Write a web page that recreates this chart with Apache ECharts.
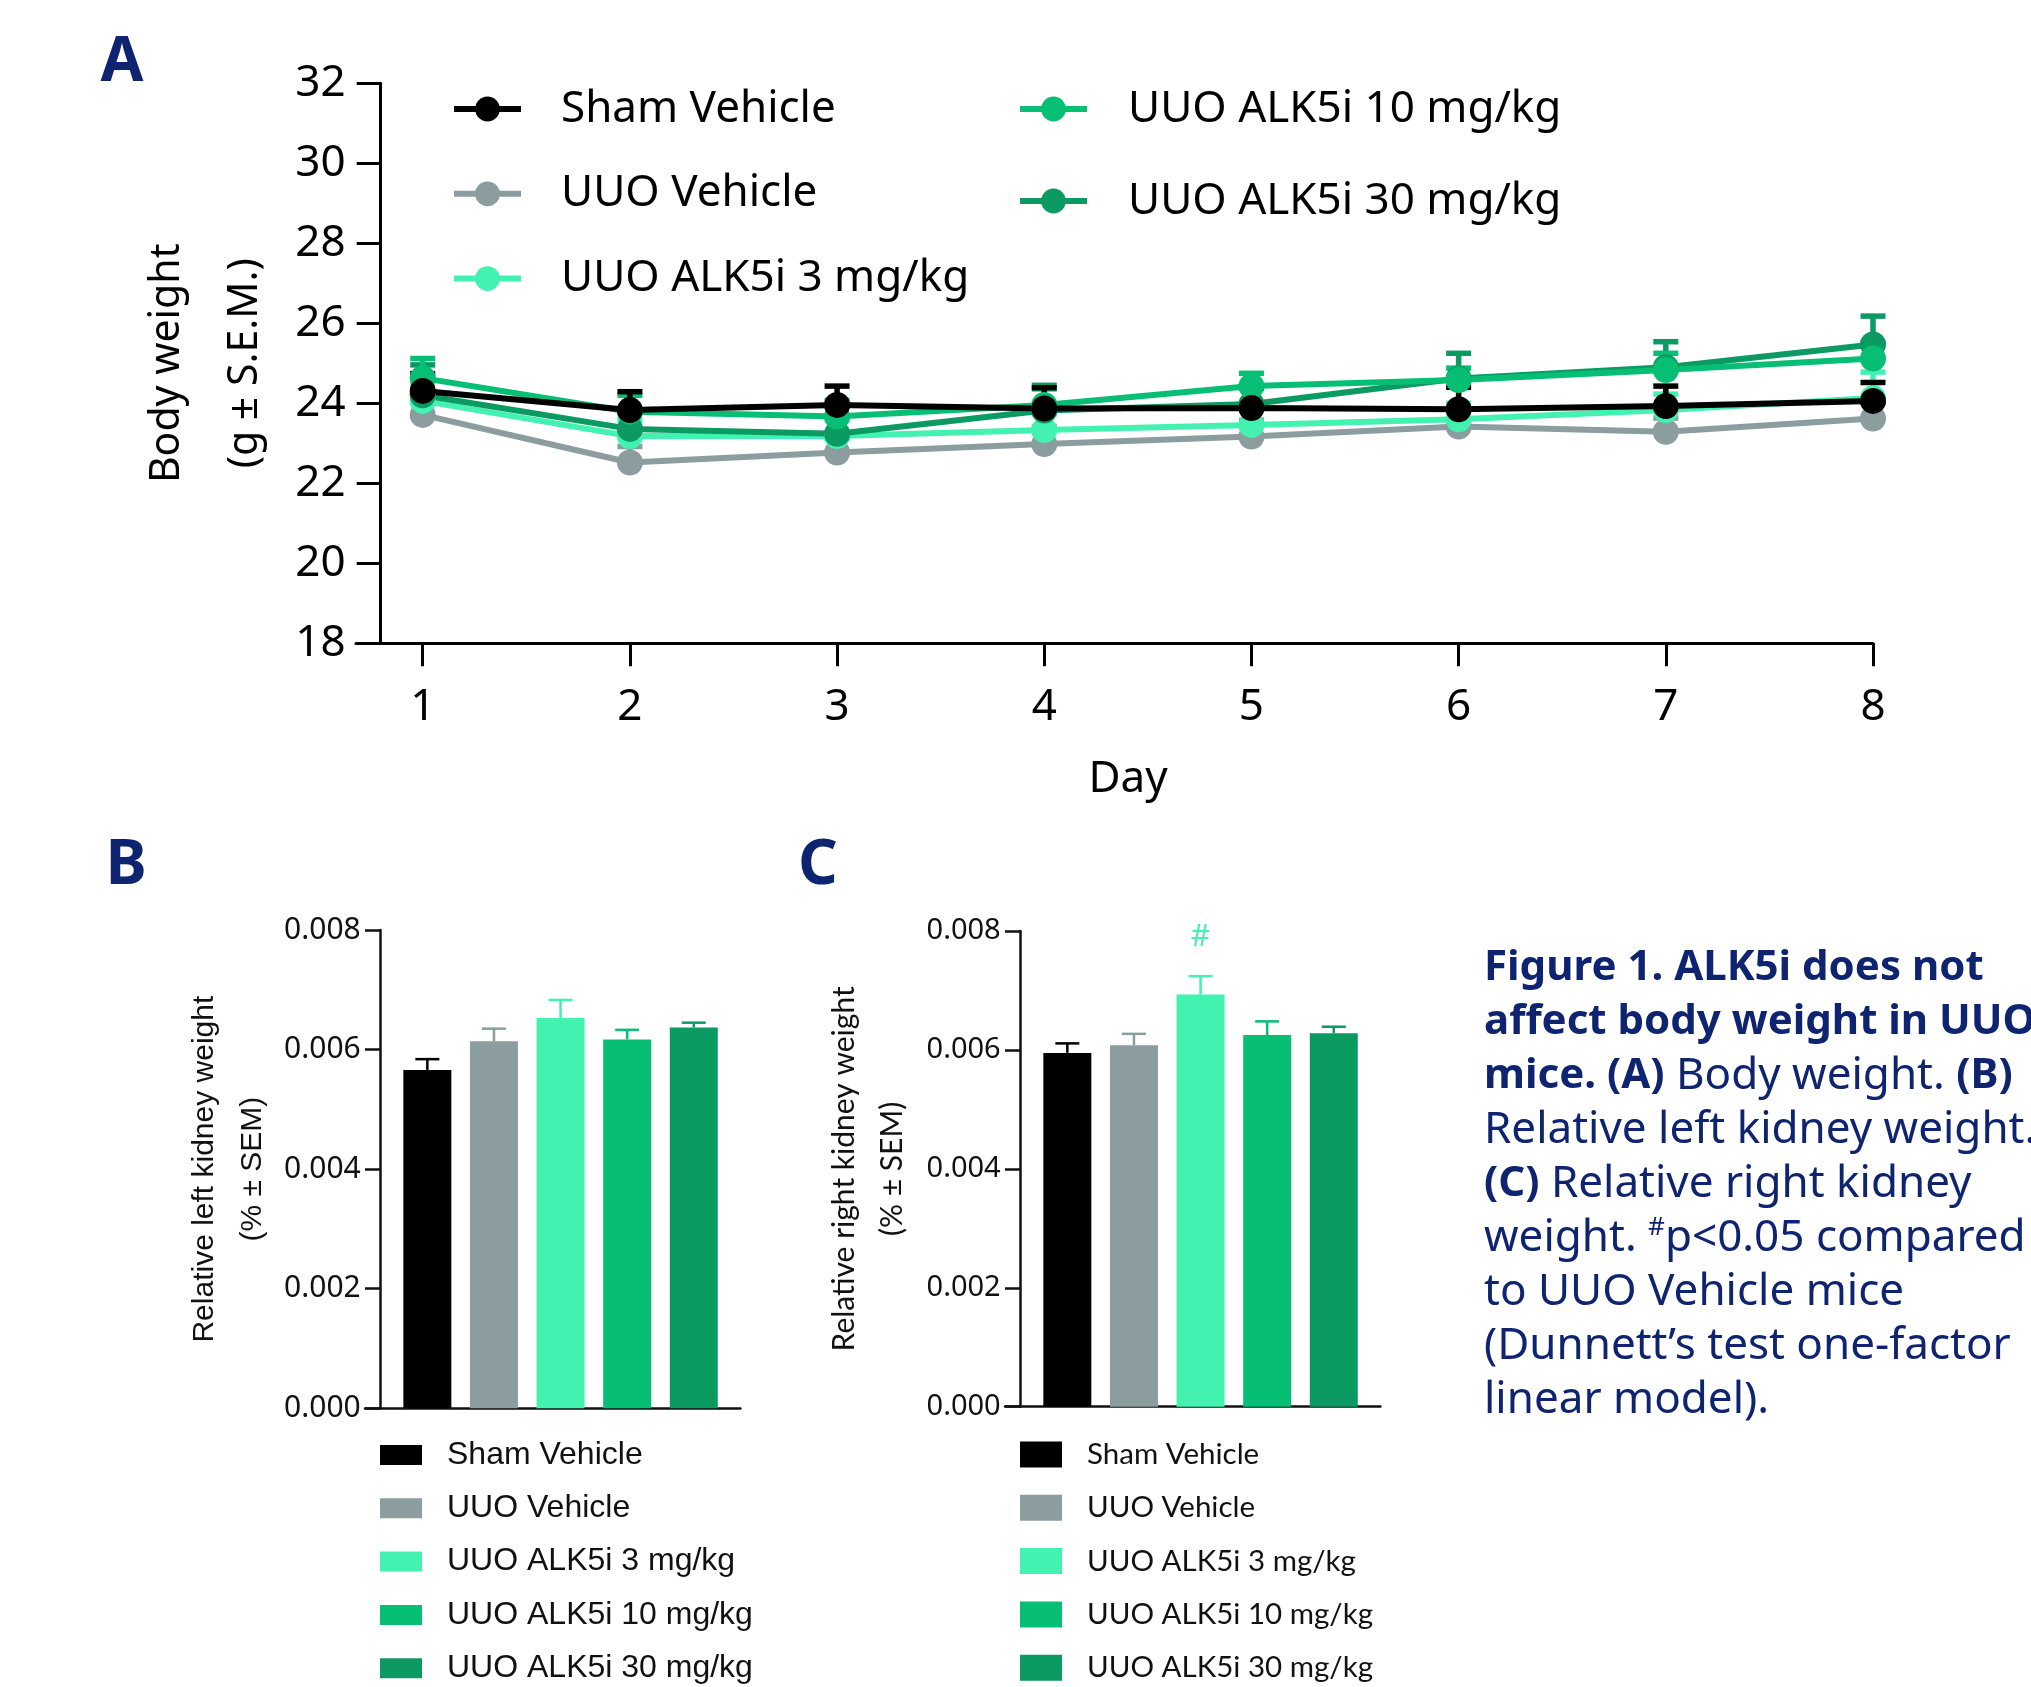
<!DOCTYPE html>
<html>
<head>
<meta charset="utf-8">
<script src="https://cdn.jsdelivr.net/npm/echarts@6/dist/echarts.min.js"></script>
<style>
  html, body { margin: 0; padding: 0; background: #fff; }
  #chart { width: 2031px; height: 1687px; }
</style>
</head>
<body>
<div id="chart"></div>
<script>
// groups, shared by all three panels
const groups = ['Sham Vehicle', 'UUO Vehicle', 'UUO ALK5i 3 mg/kg', 'UUO ALK5i 10 mg/kg', 'UUO ALK5i 30 mg/kg'];
const groupColors = ['#000000', '#8b9d9e', '#43f1b1', '#07bf74', '#0b9a62'];

// Panel A: body weight (g), mean and SEM per day
const days = [1, 2, 3, 4, 5, 6, 7, 8];
const shamWeight = [24.31, 23.83, 23.96, 23.87, 23.88, 23.85, 23.93, 24.06];
const shamSem = [0.43, 0.46, 0.47, 0.52, 0.50, 0.55, 0.50, 0.46];
const uuoWeight = [23.71, 22.52, 22.77, 22.98, 23.17, 23.42, 23.29, 23.62];
const uuoSem = [0.35, 0.40, 0.36, 0.44, 0.41, 0.40, 0.34, 0.40];
const alk3Weight = [24.06, 23.18, 23.18, 23.33, 23.46, 23.60, 23.83, 24.13];
const alk3Sem = [0.45, 0.40, 0.40, 0.40, 0.40, 0.40, 0.40, 0.65];
const alk10Weight = [24.63, 23.79, 23.67, 23.96, 24.43, 24.58, 24.83, 25.12];
const alk10Sem = [0.49, 0.41, 0.40, 0.40, 0.32, 0.30, 0.42, 0.40];
const alk30Weight = [24.20, 23.36, 23.24, 23.82, 23.98, 24.62, 24.90, 25.47];
const alk30Sem = [0.76, 0.45, 0.45, 0.63, 0.45, 0.63, 0.64, 0.71];

// Panel B: relative left kidney weight (%)
const leftKidney = [0.00566, 0.00614, 0.00653, 0.00617, 0.00637];
const leftKidneySem = [0.00018, 0.00021, 0.00030, 0.00016, 0.00008];

// Panel C: relative right kidney weight (%)
const rightKidney = [0.00595, 0.00608, 0.00693, 0.00625, 0.00628];
const rightKidneySem = [0.00016, 0.00019, 0.00031, 0.00023, 0.00011];
const rightKidneySig = ['', '', '#', '', ''];

const weights = [shamWeight, uuoWeight, alk3Weight, alk10Weight, alk30Weight];
const weightSems = [shamSem, uuoSem, alk3Sem, alk10Sem, alk30Sem];

const navy = '#0f2470';
const fontA = '"Noto Sans", sans-serif';

function errorBar(capHalf, lineWidth, colorOf, marks) {
  return function (params, api) {
    const x = api.value(0);
    const mean = api.value(1);
    const sem = api.value(2);
    const base = api.coord([x, mean]);
    const top = api.coord([x, mean + sem]);
    const color = colorOf(params);
    const children = [
      {
        type: 'line',
        shape: { x1: base[0], y1: base[1], x2: top[0], y2: top[1] },
        style: { stroke: color, lineWidth: lineWidth }
      },
      {
        type: 'line',
        shape: { x1: top[0] - capHalf, y1: top[1], x2: top[0] + capHalf, y2: top[1] },
        style: { stroke: color, lineWidth: lineWidth }
      }
    ];
    if (marks && marks[params.dataIndex]) {
      children.push({
        type: 'text',
        style: {
          text: marks[params.dataIndex], x: top[0], y: top[1] - 39,
          align: 'center', verticalAlign: 'middle',
          fill: color, font: '30px "Noto Sans"'
        }
      });
    }
    return { type: 'group', children: children };
  };
}

const series = [];

// line series for A, in the reference's stacking order
const drawOrder = [1, 2, 4, 3, 0];
drawOrder.forEach(function (g) {
  series.push({
    type: 'custom',
    name: 'sem-' + g,
    xAxisIndex: 0,
    yAxisIndex: 0,
    data: days.map(function (d, i) { return [d, weights[g][i], weightSems[g][i]]; }),
    renderItem: errorBar(12.5, 5.5, function () { return groupColors[g]; }),
    silent: true
  });
});
drawOrder.forEach(function (g) {
  series.push({
    type: 'line',
    name: groups[g],
    xAxisIndex: 0,
    yAxisIndex: 0,
    data: days.map(function (d, i) { return [d, weights[g][i]]; }),
    symbol: 'circle',
    symbolSize: 26,
    lineStyle: { color: groupColors[g], width: 6 },
    itemStyle: { color: groupColors[g] }
  });
});

// bar panels B (axis 1) and C (axis 2)
function barPanel(axis, values, sems, marks) {
  groups.forEach(function (name, i) {
    series.push({
      type: 'bar',
      name: name,
      xAxisIndex: axis,
      yAxisIndex: axis,
      data: [[i + 1, values[i]]],
      barWidth: 48,
      barGap: '-100%',
      itemStyle: { color: groupColors[i] }
    });
  });
  series.push({
    type: 'custom',
    name: 'sem-bar-' + axis,
    xAxisIndex: axis,
    yAxisIndex: axis,
    data: values.map(function (v, i) { return [i + 1, v, sems[i]]; }),
    renderItem: errorBar(12, 2.5, function (p) { return groupColors[p.dataIndex]; }, marks),
    silent: true,
    z: 3
  });
}
barPanel(1, leftKidney, leftKidneySem, null);
barPanel(2, rightKidney, rightKidneySem, rightKidneySig);

const axisLineA = { lineStyle: { color: '#000', width: 3 } };
const axisLineB = { lineStyle: { color: '#111', width: 2.5 } };

function barXAxis(grid) {
  return {
    type: 'value', gridIndex: grid, min: 0.064, max: 5.7,
    axisLine: axisLineB, axisTick: { show: false }, axisLabel: { show: false },
    splitLine: { show: false }
  };
}
function barYAxis(grid, name, nameFont, labelSize) {
  return {
    type: 'value', gridIndex: grid, min: 0, max: 0.008, interval: 0.002,
    offset: -15.7,
    axisLine: { show: true, lineStyle: { color: '#111', width: 2.5 } },
    axisTick: { show: true, length: 15.7, lineStyle: { color: '#111', width: 2.5 } },
    axisLabel: {
      fontFamily: fontA, fontSize: labelSize, color: '#111', margin: 20,
      formatter: function (v) { return v.toFixed(3); }
    },
    splitLine: { show: false },
    name: name,
    nameLocation: 'middle',
    nameRotate: 90,
    nameGap: 104,
    nameTextStyle: { fontFamily: nameFont, fontSize: 30, color: '#111', lineHeight: 48 }
  };
}

function barLegend(left, top, font, size, iconHeight) {
  return {
    data: groups, left: left, top: top, height: 300, padding: 0,
    orient: 'vertical', icon: 'rect',
    itemWidth: 42, itemHeight: iconHeight, itemGap: 19.3,
    itemStyle: { borderWidth: 0 },
    textStyle: { fontFamily: font, fontSize: size, color: '#111', lineHeight: 34, padding: [0, 0, 0, 20] }
  };
}

const chart = echarts.init(document.getElementById('chart'));
chart.setOption({
  animation: false,
  backgroundColor: '#fff',
  grid: [
    { left: 356, top: 83.3, width: 1517, height: 560 },
    { left: 365, top: 930, width: 375.4, height: 478.3 },
    { left: 1005, top: 931, width: 375.4, height: 475.7 }
  ],
  xAxis: [
    {
      type: 'value', gridIndex: 0, min: 0.678, max: 8,
      axisLine: axisLineA,
      axisTick: { show: true, length: 23, customValues: days, lineStyle: { color: '#000', width: 3 } },
      axisLabel: { customValues: days, fontFamily: fontA, fontSize: 44, color: '#000', margin: 42 },
      splitLine: { show: false },
      name: 'Day',
      nameLocation: 'middle',
      nameGap: 114,
      nameTextStyle: { fontFamily: fontA, fontSize: 44, color: '#000', padding: [0, 0, 0, 27] }
    },
    barXAxis(1),
    barXAxis(2)
  ],
  yAxis: [
    {
      type: 'value', gridIndex: 0, min: 18, max: 32, interval: 2,
      offset: -24.7,
      axisLine: { show: true, lineStyle: { color: '#000', width: 3 } },
      axisTick: { show: true, length: 24, lineStyle: { color: '#000', width: 3 } },
      axisLabel: { fontFamily: fontA, fontSize: 44, color: '#000', margin: 35 },
      splitLine: { show: false },
      name: 'Body weight\n(g ± S.E.M.)',
      nameLocation: 'middle',
      nameRotate: 90,
      nameGap: 94,
      nameTextStyle: { fontFamily: fontA, fontSize: 41, color: '#000', lineHeight: 78 }
    },
    barYAxis(1, 'Relative left kidney weight\n(% ± SEM)', '"Liberation Sans", Arial', 30),
    barYAxis(2, 'Relative right kidney weight\n(% ± SEM)', 'Lato, sans-serif', 29)
  ],
  legend: [
    {
      data: groups.slice(0, 3), left: 451, top: 87, padding: 0, orient: 'vertical',
      itemWidth: 67, itemHeight: 31, itemGap: 40.8,
      lineStyle: { width: 6 },
      textStyle: { fontFamily: fontA, fontSize: 44, color: '#000', lineHeight: 44, padding: [0, 0, 0, 35] }
    },
    {
      data: groups.slice(3), left: 1017, top: 87, padding: 0, orient: 'vertical',
      itemWidth: 67, itemHeight: 31, itemGap: 48,
      lineStyle: { width: 6 },
      textStyle: { fontFamily: fontA, fontSize: 44, color: '#000', lineHeight: 44, padding: [0, 0, 0, 36] }
    },
    barLegend(380, 1438, '"Liberation Sans", Arial', 32, 20),
    barLegend(1020, 1437.5, 'Lato, sans-serif', 29.5, 26)
  ],
  graphic: [
    { type: 'text', x: 122, y: 63, style: { text: 'A', fill: navy, font: 'bold 62px "Noto Sans"', align: 'center', verticalAlign: 'middle' } },
    { type: 'text', x: 126, y: 866, style: { text: 'B', fill: navy, font: 'bold 62px "Noto Sans"', align: 'center', verticalAlign: 'middle' } },
    { type: 'text', x: 818, y: 866, style: { text: 'C', fill: navy, font: 'bold 62px "Noto Sans"', align: 'center', verticalAlign: 'middle' } },
    {
      type: 'text', x: 1484, y: 941,
      style: {
        text: [
          '{b|Figure 1. ALK5i does not}',
          '{b|affect body weight in UUO}',
          '{b|mice. (A)} {r|Body weight.} {b|(B)}',
          '{r|Relative left kidney weight.}',
          '{b|(C)} {r|Relative right kidney}',
          '{r|weight. }{s|#}{r|p<0.05 compared}',
          '{r|to UUO Vehicle mice}',
          '{r|(Dunnett\u2019s test one-factor}',
          '{r|linear model).}'
        ].join('\n'),
        fill: navy,
        font: '44px "Noto Sans"',
        lineHeight: 54,
        verticalAlign: 'top',
        rich: {
          b: { fontFamily: 'Noto Sans', fontWeight: 'bold', fontSize: 42, lineHeight: 54, fill: navy },
          r: { fontFamily: 'Noto Sans', fontSize: 44, lineHeight: 54, fill: navy },
          s: { fontFamily: 'Noto Sans', fontSize: 26, lineHeight: 54, verticalAlign: 'top', padding: [4, 0, 0, 0], fill: navy }
        }
      }
    }
  ],
  series: series
});
</script>
</body>
</html>
